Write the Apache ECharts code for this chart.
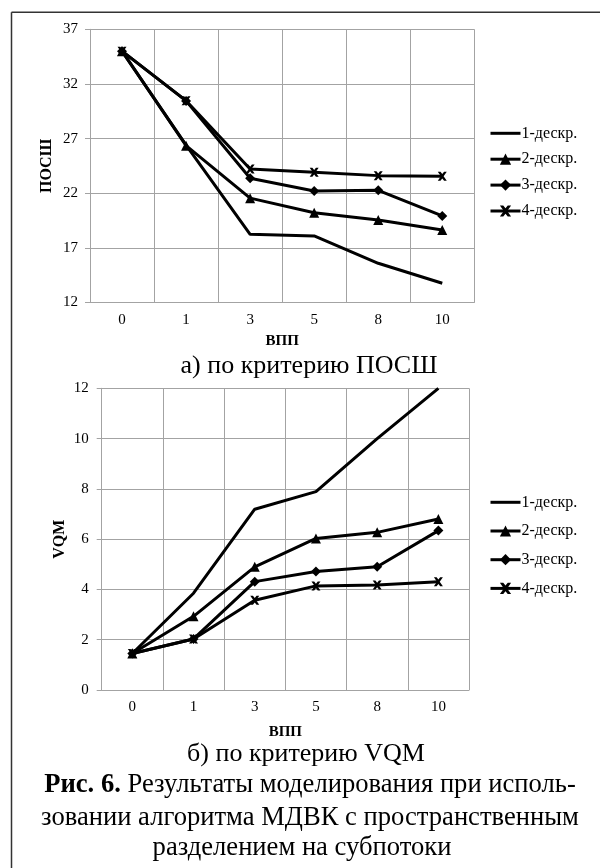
<!DOCTYPE html>
<html>
<head>
<meta charset="utf-8">
<script src="https://cdn.jsdelivr.net/npm/echarts@6/dist/echarts.min.js"></script>
<style>
  html, body { margin: 0; padding: 0; background: #fff; }
  #show { width: 600px; height: 868px; }
</style>
</head>
<body>
<div id="show"></div>
<script>
var myChart = echarts.init(document.getElementById("show"));

var vpp = ['0', '1', '3', '5', '8', '10'];
var names = ['1-дескр.', '2-дескр.', '3-дескр.', '4-дескр.'];

// а) ПОСШ
var posh1 = [35.0, 26.4, 18.24, 18.09, 15.59, 13.76];
var posh2 = [35.0, 26.35, 21.55, 20.22, 19.55, 18.64];
var posh3 = [35.0, 30.45, 23.37, 22.21, 22.27, 19.92];
var posh4 = [35.0, 30.47, 24.22, 23.92, 23.61, 23.55];

// б) VQM
var vqm1 = [1.45, 3.85, 7.19, 7.89, 10.0, 12.0];
var vqm2 = [1.45, 2.93, 4.9, 6.03, 6.27, 6.8];
var vqm3 = [1.45, 2.03, 4.31, 4.71, 4.9, 6.34];
var vqm4 = [1.45, 2.03, 3.57, 4.14, 4.18, 4.31];

var serif = '"Liberation Serif", "DejaVu Serif", serif';
var grey = '#a3a3a3';
var cross = 'path://M0,0 L3,0 L5,2.5 L7,0 L10,0 L6.5,5 L10,10 L7,10 L5,7.5 L3,10 L0,10 L3.5,5 Z';
var symbols = ['none', 'triangle', 'diamond', cross];
var sizes = [0, 10, 10, 9];

function xAx(idx, gap) {
    return {
        type: 'category', gridIndex: idx, data: vpp,
        name: 'ВПП', nameLocation: 'middle', nameGap: gap,
        nameTextStyle: { fontFamily: serif, fontWeight: 'bold', fontSize: 15, color: '#000' },
        axisLine: { lineStyle: { color: grey } },
        axisTick: { length: 5, lineStyle: { color: grey } },
        axisLabel: { fontFamily: serif, fontSize: 15, color: '#000', margin: 10 },
        splitLine: { show: true, lineStyle: { color: grey } }
    };
}

function yAx(idx, min, max, step, name, gap, margin) {
    return {
        type: 'value', gridIndex: idx, min: min, max: max, interval: step,
        name: name, nameLocation: 'middle', nameGap: gap, nameRotate: 90,
        nameMoveOverlap: false,
        nameTextStyle: { fontFamily: serif, fontWeight: 'bold', fontSize: 16, color: '#000' },
        axisLine: { show: true, lineStyle: { color: grey } },
        axisTick: { show: true, length: 5, lineStyle: { color: grey } },
        axisLabel: { fontFamily: serif, fontSize: 15, color: '#000', margin: margin },
        splitLine: { lineStyle: { color: grey } }
    };
}

function lines(idx, sets) {
    return sets.map(function (d, i) {
        return {
            name: names[i], type: 'line', xAxisIndex: idx, yAxisIndex: idx,
            data: d, symbol: symbols[i], symbolSize: sizes[i], showSymbol: i > 0,
            lineStyle: { color: '#000', width: 3 },
            itemStyle: { color: '#000' },
            z: 10 - i,
            animation: false
        };
    });
}

function legend(top, gap) {
    return {
        orient: 'vertical', left: 489, top: top, padding: 0,
        itemWidth: 30, itemHeight: 14, itemGap: gap,
        data: names.map(function (n, i) {
            return i === 0 ? { name: n, icon: 'path://M0,0 L30,0 L30,3 L0,3 Z' } : n;
        }),
        lineStyle: { width: 3 },
        textStyle: { fontFamily: serif, fontSize: 16, color: '#000', padding: [0, 0, 0, -4] }
    };
}

var caption = { fontFamily: serif, fontSize: 26, fill: '#000' };
var caption2 = { fontFamily: serif, fontSize: 26.6, fill: '#000' };

myChart.setOption({
    animation: false,
    grid: [
        { left: 90, top: 29.3, width: 384.3, height: 273.2 },
        { left: 101.7, top: 388.3, width: 367.3, height: 301.7 }
    ],
    xAxis: [xAx(0, 31), xAx(1, 35)],
    yAxis: [
        yAx(0, 12, 37, 5, 'ПОСШ', 35, 12),
        yAx(1, 0, 12, 2, 'VQM', 34, 13)
    ],
    legend: [legend(125.3, 9.9), legend(494.3, 12.7)],
    series: lines(0, [posh1, posh2, posh3, posh4]).concat(lines(1, [vqm1, vqm2, vqm3, vqm4])),
    graphic: [
        { type: 'line', shape: { x1: 11.5, y1: 12.3, x2: 600, y2: 12.3 }, style: { stroke: '#333', lineWidth: 1.5 } },
        { type: 'line', shape: { x1: 11.5, y1: 12.3, x2: 11.5, y2: 868 }, style: { stroke: '#333', lineWidth: 1.5 } },
        { type: 'text', x: 309, y: 366, style: Object.assign({ text: 'а) по критерию ПОСШ', textAlign: 'center', textVerticalAlign: 'middle' }, caption) },
        { type: 'text', x: 306, y: 754, style: Object.assign({ text: 'б) по критерию VQM', textAlign: 'center', textVerticalAlign: 'middle' }, caption) },
        { type: 'text', x: 310, y: 785, style: Object.assign({
            text: '{b|Рис. 6.} Результаты моделирования при исполь-',
            textAlign: 'center', textVerticalAlign: 'middle',
            rich: { b: { fontFamily: serif, fontSize: 26.6, fontWeight: 'bold' } }
        }, caption2) },
        { type: 'text', x: 310, y: 818, style: Object.assign({ text: 'зовании алгоритма МДВК с пространственным', textAlign: 'center', textVerticalAlign: 'middle' }, caption2) },
        { type: 'text', x: 302, y: 848, style: Object.assign({ text: 'разделением на субпотоки', textAlign: 'center', textVerticalAlign: 'middle' }, caption2) }
    ]
});
</script>
</body>
</html>
